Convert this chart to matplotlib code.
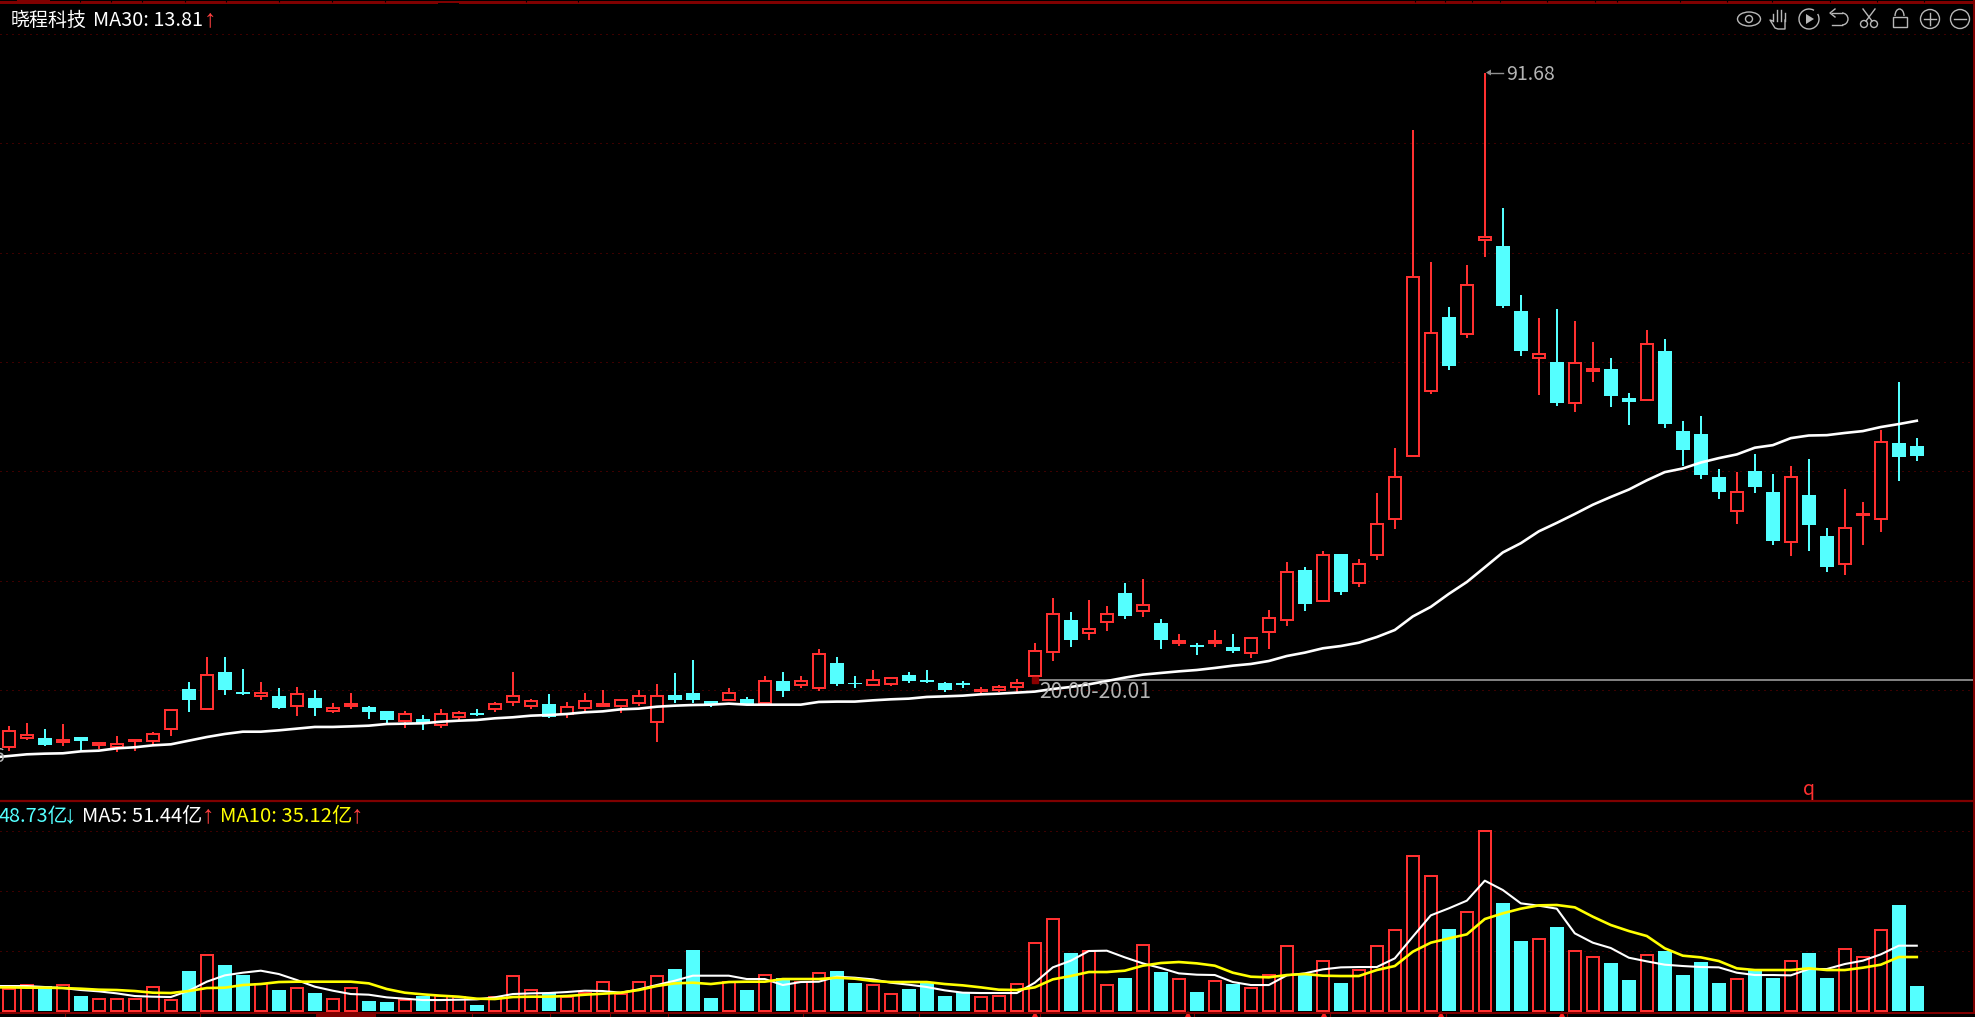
import matplotlib
matplotlib.use('Agg')
import matplotlib.pyplot as plt
from matplotlib.patches import Circle, Ellipse, Rectangle, Arc, Polygon

plt.rcParams['font.family'] = ['Noto Sans CJK SC', 'DejaVu Sans']

stock_name = '晓程科技'
ma30_label = 'MA30: 13.81'
vol_label = '48.73亿'
ma5_label = 'MA5: 51.44亿'
ma10_label = 'MA10: 35.12亿'
high_label = '91.68'
level_label = '20.00-20.01'

# R = up day, C = down day
dirs = ("RRCRCRRRRR" "CRCCRCRCRR" "CCRCRRCRRR" "CRRRRRRCCC" "RCRCRRCCRR"
        "CCCCRRRRRC" "RRCRCRCRCR" "RRCRCRRRRR" "CRRCCRCRRC" "CRCCCCRCCR" "CCRRRCC")

highs = [14.57, 14.93, 14.22, 14.81, 13.31, 12.69, 13.39, 12.92, 13.87, 16.46,
         19.76, 22.71, 22.71, 21.30, 19.76, 19.06, 19.17, 18.82, 17.29, 18.43,
         16.93, 16.34, 16.34, 15.87, 16.58, 16.34, 16.58, 17.40, 20.94, 17.76,
         18.35, 17.40, 18.47, 18.82, 17.76, 18.82, 19.53, 20.83, 22.36, 17.52,
         19.06, 18.00, 20.47, 20.95, 20.47, 23.66, 22.72, 20.47, 21.18, 20.24,
         20.95, 21.18, 19.77, 19.88, 19.18, 19.41, 20.12, 24.37, 29.68, 28.03,
         29.44, 28.73, 31.45, 31.92, 27.20, 25.43, 24.37, 25.90, 25.43, 25.08,
         28.26, 33.92, 33.30, 35.27, 34.83, 34.27, 42.04, 47.36, 84.91, 69.32,
         64.00, 68.97, 91.68, 75.70, 65.44, 62.69, 63.78, 62.34, 59.89, 57.97,
         53.87, 61.29, 60.24, 50.55, 51.21, 44.87, 44.53, 46.66, 44.31, 45.22,
         46.05, 37.93, 42.52, 40.99, 49.50, 55.13, 48.54]
body_top = [13.94, 13.47, 13.16, 12.92, 13.27, 12.53, 12.41, 12.88, 13.59, 16.42,
            18.94, 20.55, 20.94, 18.58, 18.43, 18.11, 18.39, 17.88, 16.70, 17.17,
            16.78, 16.34, 15.95, 15.40, 15.95, 16.11, 16.07, 17.13, 18.07, 17.48,
            17.17, 16.78, 17.48, 17.13, 17.68, 18.15, 18.15, 18.23, 18.47, 17.52,
            18.43, 17.76, 19.84, 19.88, 19.88, 23.03, 22.01, 19.65, 19.96, 20.20,
            20.59, 20.00, 19.65, 19.65, 18.86, 19.18, 19.65, 23.38, 27.75, 27.08,
            26.02, 27.75, 30.27, 28.81, 26.73, 24.60, 24.13, 24.60, 23.90, 24.92,
            27.28, 32.71, 32.96, 34.79, 34.83, 33.74, 38.37, 43.96, 67.58, 60.98,
            62.82, 66.57, 72.25, 71.20, 63.52, 58.41, 57.49, 57.45, 56.71, 56.71,
            53.26, 59.59, 58.80, 49.37, 49.02, 43.96, 42.21, 44.66, 42.17, 43.96,
            41.82, 36.97, 37.93, 39.64, 48.11, 47.97, 47.58]
body_bot = [12.13, 13.20, 12.33, 12.72, 12.84, 12.37, 12.10, 12.76, 12.84, 14.18,
            17.64, 16.62, 18.82, 18.39, 18.15, 16.70, 16.97, 16.70, 16.38, 16.97,
            16.22, 15.28, 15.20, 14.93, 14.65, 15.63, 15.87, 16.62, 17.44, 16.93,
            15.63, 15.95, 16.74, 16.97, 16.97, 17.33, 15.01, 17.64, 17.64, 17.17,
            17.64, 17.17, 17.29, 18.70, 19.41, 19.10, 19.53, 19.49, 19.41, 19.53,
            19.88, 19.77, 18.82, 19.41, 18.74, 18.82, 19.18, 20.51, 23.34, 24.72,
            25.55, 26.88, 27.55, 28.10, 24.72, 24.41, 23.93, 24.41, 23.42, 23.15,
            25.63, 27.04, 28.94, 29.38, 30.38, 31.47, 34.79, 39.02, 46.45, 54.13,
            57.06, 60.85, 71.90, 64.13, 58.80, 57.97, 52.69, 52.73, 56.49, 53.52,
            52.78, 53.08, 50.20, 47.14, 44.18, 42.17, 39.98, 42.78, 36.40, 36.23,
            38.28, 33.30, 33.65, 39.50, 39.02, 46.31, 46.40]
lows = [11.66, 12.92, 12.21, 12.21, 11.66, 11.82, 11.51, 11.62, 12.37, 13.39,
        16.22, 16.46, 18.23, 18.23, 17.64, 16.58, 15.75, 15.75, 16.11, 16.58,
        15.40, 14.81, 14.34, 14.10, 14.34, 15.28, 15.75, 16.22, 16.93, 16.58,
        15.52, 15.52, 16.22, 16.81, 16.11, 16.93, 12.69, 17.29, 17.29, 16.82,
        17.52, 17.05, 17.17, 18.00, 19.06, 18.70, 19.29, 19.06, 19.29, 19.29,
        19.65, 19.65, 18.59, 19.06, 18.35, 18.59, 18.59, 19.81, 22.24, 23.90,
        24.72, 25.78, 27.20, 27.44, 23.66, 24.01, 22.95, 23.90, 23.19, 22.60,
        23.66, 26.37, 28.15, 29.24, 30.03, 30.99, 34.18, 37.80, 46.31, 53.74,
        56.62, 60.33, 69.89, 63.87, 58.23, 53.61, 52.34, 51.60, 55.13, 52.21,
        50.07, 52.95, 49.72, 45.22, 43.70, 41.34, 38.46, 42.04, 35.92, 34.61,
        35.22, 32.74, 32.39, 35.92, 37.45, 43.48, 45.84]
# the moving averages carry one extra leading day that starts off screen
ma30 = [10.83, 11.03, 11.23, 11.31, 11.35, 11.58, 11.66, 11.94, 12.06, 12.29, 12.41,
        12.84, 13.27, 13.63, 13.90, 13.90, 14.06, 14.26, 14.46, 14.46, 14.53,
        14.61, 14.81, 14.85, 14.89, 15.08, 15.20, 15.28, 15.48, 15.60, 15.79,
        15.87, 15.99, 16.19, 16.30, 16.54, 16.62, 16.85, 16.97, 17.05, 17.09,
        17.21, 17.09, 17.09, 17.09, 17.09, 17.41, 17.45, 17.45, 17.60, 17.72,
        17.80, 18.00, 18.07, 18.15, 18.31, 18.39, 18.51, 18.63, 18.94, 19.18,
        19.49, 19.88, 20.28, 20.63, 20.83, 21.02, 21.18, 21.42, 21.69, 21.89,
        22.24, 22.83, 23.23, 23.74, 24.01, 24.40, 25.07, 25.90, 27.50, 28.63,
        30.16, 31.56, 33.30, 35.05, 36.14, 37.54, 38.54, 39.59, 40.68, 41.60,
        42.47, 43.56, 44.53, 44.96, 45.66, 46.18, 46.62, 47.41, 47.71, 48.54,
        48.85, 48.89, 49.15, 49.37, 49.85, 50.20, 50.59]

volume = [12.8, 15.6, 14.8, 15.6, 8.8, 7.2, 7.2, 7.2, 14.4, 6.4,
          23.8, 33.6, 27.4, 21.4, 16.2, 12.4, 13.8, 10.6, 7.0, 13.8,
          5.8, 5.2, 6.2, 8.8, 8.8, 8.4, 3.4, 8.4, 21.0, 12.6,
          10.4, 8.4, 10.4, 17.4, 10.0, 17.4, 21.0, 25.0, 36.4, 7.6,
          17.4, 12.4, 21.6, 19.4, 17.4, 22.8, 23.8, 16.6, 15.6, 10.2,
          13.0, 16.4, 8.8, 11.4, 8.4, 9.0, 16.0, 40.8, 55.2, 34.6,
          36.0, 15.6, 19.6, 39.6, 23.2, 19.2, 11.2, 18.0, 16.0, 13.8,
          21.6, 39.0, 21.4, 30.0, 16.6, 24.6, 39.0, 48.6, 93.0, 81.0,
          49.0, 59.4, 108.0, 64.6, 41.8, 43.2, 50.2, 36.0, 32.4, 28.6,
          18.4, 33.6, 35.8, 21.4, 29.2, 16.6, 19.2, 24.4, 19.6, 30.0,
          34.6, 19.6, 37.2, 32.4, 48.6, 63.4, 14.8]
vol_ma5 = [14.8, 14.8, 14.8, 14.2, 13.6, 12.4, 11.6, 10.4, 8.8, 8.4, 8.2,
           12.0, 17.4, 21.2, 22.8, 24.0, 22.0, 18.4, 14.4, 12.0, 10.0,
           9.6, 8.0, 7.2, 6.4, 6.4, 6.6, 6.8, 8.0, 10.0, 10.4,
           10.6, 11.2, 12.0, 11.8, 10.8, 12.8, 15.4, 18.0, 21.0, 21.0,
           21.0, 19.0, 19.0, 15.4, 17.2, 17.4, 20.4, 19.8, 18.8, 16.8,
           15.6, 14.2, 12.2, 10.8, 10.6, 10.6, 10.6, 16.8, 26.0, 30.0,
           35.8, 36.0, 32.0, 28.4, 25.6, 22.4, 21.6, 21.4, 17.2, 15.4,
           15.4, 21.2, 22.4, 24.8, 26.0, 26.2, 26.2, 31.4, 44.4, 57.2,
           61.4, 66.0, 78.0, 72.4, 64.4, 63.0, 61.2, 46.4, 40.8, 37.6,
           31.8, 29.6, 27.6, 26.8, 26.2, 26.0, 22.8, 21.4, 21.4, 21.2,
           25.0, 25.0, 28.0, 30.0, 33.8, 39.0, 39.0]
vol_ma10 = [14.0, 14.0, 13.8, 13.8, 13.6, 13.2, 12.6, 12.4, 11.8, 10.8, 10.6,
            11.8, 13.6, 13.8, 15.4, 16.0, 17.2, 17.4, 17.4, 17.4, 17.4,
            16.4, 13.0, 10.8, 9.8, 9.0, 8.4, 7.2, 7.0, 8.2, 8.4,
            8.4, 8.8, 9.6, 10.2, 10.8, 12.4, 14.8, 16.4, 16.8, 16.0,
            17.2, 17.4, 17.4, 19.0, 19.0, 19.0, 19.8, 19.2, 17.8, 17.2,
            17.2, 17.2, 16.0, 15.2, 14.0, 12.6, 12.4, 14.0, 18.8, 20.8,
            23.2, 23.2, 24.0, 27.0, 28.6, 29.2, 28.4, 27.0, 22.8, 20.4,
            20.0, 21.4, 22.0, 21.0, 20.8, 20.8, 24.4, 26.8, 35.4, 40.8,
            43.4, 45.8, 55.0, 58.4, 61.2, 63.2, 63.4, 62.0, 56.4, 51.4,
            47.8, 44.8, 37.4, 33.0, 32.0, 29.8, 25.4, 24.4, 24.4, 24.4,
            25.4, 24.4, 24.4, 25.8, 27.6, 32.2, 32.2]

price_grid = [96.23, 83.37, 70.44, 57.58, 44.66, 31.74, 18.82]
vol_grid = [107.8, 71.8, 35.8]
level_price = 20.0

RED = '#ff3030'
CYAN = '#54ffff'
DARK = '#7f0000'
GRID = '#7a0000'
GRAY = '#b4b4b4'
W, H = 1975, 1017

fig = plt.figure(figsize=(W / 100, H / 100), dpi=100, facecolor='black')


def pane(left, top, right, bottom):
    ax = fig.add_axes([left / W, 1 - bottom / H, (right - left) / W, (bottom - top) / H])
    ax.set_facecolor('black')
    ax.axis('off')
    return ax


xlim = (-8.8 / 18, (1973 - 8.8) / 18)
ax_p = pane(0, 0, 1973, 800)
ax_p.set_xlim(xlim)
ax_p.set_ylim(5.84, 100.24)
ax_v = pane(0, 800, 1973, 1012)
ax_v.set_xlim(xlim)
ax_v.set_ylim(-0.78, 126.4)

for ax, levels in ((ax_p, price_grid), (ax_v, vol_grid)):
    ax.hlines(levels, xlim[0], xlim[1] - 0.1, colors=GRID, lw=0.72, linestyles=[(0, (1, 5))], zorder=1)

# candles
lw = 1.44
for i, d in enumerate(dirs):
    col = RED if d == 'R' else CYAN
    ax_p.vlines(i, body_top[i], highs[i], colors=col, lw=lw, zorder=3)
    ax_p.vlines(i, lows[i], body_bot[i], colors=col, lw=lw, zorder=3)
    if d == 'R':
        ax_p.bar(i, body_top[i] - body_bot[i], 0.67, body_bot[i], facecolor='black', edgecolor=col,
                 lw=lw, zorder=3)
        ax_v.bar(i, volume[i], 0.67, facecolor='black', edgecolor=col, lw=lw, zorder=2)
    else:
        ax_p.bar(i, body_top[i] - body_bot[i], 0.76, body_bot[i], color=col, lw=0, zorder=3)
        ax_v.bar(i, volume[i], 0.76, color=col, lw=0, zorder=2)

days = range(-1, len(dirs))
ax_p.set_xlim(xlim)
ax_v.set_xlim(xlim)
ax_p.plot(days, ma30, color='white', lw=1.9, zorder=4)
ax_p.hlines(level_price, 57.1, xlim[1], colors='#808080', lw=1.44, zorder=2)
ax_p.plot([57], [level_price], 's', color='#8a0000', ms=4, zorder=5)
ax_v.plot(days, vol_ma5, color='white', lw=1.5, zorder=4)
ax_v.plot(days, vol_ma10, color='#ffff00', lw=1.9, zorder=5)
ax_p.set_xlim(xlim)
ax_v.set_xlim(xlim)

# overlay in screen pixels: frame, labels and toolbar
ov = fig.add_axes([0, 0, 1, 1], zorder=10)
ov.set_xlim(0, W)
ov.set_ylim(H, 0)
ov.axis('off')
ov.patch.set_alpha(0)

ov.hlines(800.5, 0, W, colors=DARK, lw=1.6)
ov.vlines(1974, 0, 1013, colors=DARK, lw=1.44)
ov.add_patch(Rectangle((0, 1), W, 3, color=DARK, lw=0))
ov.add_patch(Rectangle((17, 0), 33, 4, color=DARK, lw=0))
ov.add_patch(Rectangle((438, 3), 21, 2, color='black', lw=0))
top_ticks = [80, 111, 142, 185, 226, 279, 332, 385, 526, 578, 1415, 1445, 1472, 1500, 1547, 1595,
             1617, 1680, 1727, 1772, 1830, 1877, 1924]
ov.vlines(top_ticks, 0, 2, colors='black', lw=0.8)
ov.hlines(1012.5, 0, W, colors=DARK, lw=1.44)
bottom_ticks = [65, 200, 472, 550, 610, 668, 803, 919, 1040, 1194, 1330, 1446, 1567]
ov.vlines(bottom_ticks, 1012, 1017, colors=DARK, lw=0.8)
ov.add_patch(Rectangle((316, 1012), 60, 5, color=DARK, lw=0))
for mx in [1035, 1188, 1324, 1441, 1562]:
    ov.add_patch(Polygon([(mx - 3, 1017), (mx + 3, 1017), (mx, 1011)], color='#ff2020', lw=0))

arrow_font = 'Liberation Sans'
ov.text(11, 20, stock_name, color='white', fontsize=13.7, va='center')
ov.text(93, 20, ma30_label, color='white', fontsize=14.3, va='center')
ov.text(210, 19, '↑', color='#ff4040', fontsize=18, va='center', ha='center', family=arrow_font)
ov.text(-1, 816.5, vol_label, color=CYAN, fontsize=14.3, va='center')
ov.text(70, 815, '↓', color=CYAN, fontsize=18, va='center', ha='center', family=arrow_font)
ov.text(82, 816.5, ma5_label, color='white', fontsize=14.5, va='center')
ov.text(208, 815, '↑', color='#ff4040', fontsize=18, va='center', ha='center', family=arrow_font)
ov.text(220, 816.5, ma10_label, color='#ffff00', fontsize=14.6, va='center')
ov.text(357, 815, '↑', color='#ff4040', fontsize=18, va='center', ha='center', family=arrow_font)
ov.text(-6, 757, '6', color=GRAY, fontsize=14, va='center')
ov.text(1809, 789, 'q', color=RED, fontsize=14, va='center', ha='center')
ov.text(1506, 74, high_label, color=GRAY, fontsize=14, va='center')
ov.text(1039, 692, level_label, color=GRAY, fontsize=15.2, va='center')

# 91.68 pointer
ov.plot([1488, 1503], [72.5, 72.5], color='#909090', lw=1)
ov.add_patch(Polygon([(1486, 72.5), (1491, 69.5), (1491, 75.5)], color='#909090', lw=0))

# toolbar icons
ic = '#b8b8b8'
kw = dict(fill=False, edgecolor=ic, lw=1.0)
ov.add_patch(Ellipse((1749, 19), 23, 14, **kw))
ov.add_patch(Circle((1749, 19), 3.5, **kw))
for dx, top in ((-6, 14), (-2, 10), (2, 10), (6, 13)):
    ov.plot([1779 + dx, 1779 + dx], [top, 21], color=ic, lw=1.0)
ov.plot([1773, 1770, 1775, 1778, 1785, 1785], [21, 20, 28, 29, 29, 20], color=ic, lw=1.0)
ov.add_patch(Arc((1809, 19), 20, 20, theta1=-30, theta2=300, edgecolor=ic, lw=1.0))
ov.add_patch(Polygon([(1806, 14), (1806, 24), (1814, 19)], color=ic, lw=0))
ov.plot([1832, 1842], [13, 13], color=ic, lw=1.0)
ov.add_patch(Arc((1842, 19), 12, 12, theta1=-90, theta2=90, edgecolor=ic, lw=1.0))
ov.plot([1842, 1832], [25, 25], color=ic, lw=1.0)
ov.plot([1835, 1830, 1835], [9, 13, 17], color=ic, lw=1.0)
ov.add_patch(Circle((1864, 24), 3.5, **kw))
ov.add_patch(Circle((1874, 24), 3.5, **kw))
ov.plot([1866, 1875], [21, 9], color=ic, lw=1.0)
ov.plot([1872, 1863], [21, 9], color=ic, lw=1.0)
ov.add_patch(Rectangle((1892.5, 17), 14, 10, **kw))
ov.add_patch(Arc((1899.5, 16), 9, 14, theta1=180, theta2=360, edgecolor=ic, lw=1.0))
ov.add_patch(Circle((1930, 19), 9.5, **kw))
ov.plot([1924, 1936], [19, 19], color=ic, lw=1.0)
ov.plot([1930, 1930], [13, 25], color=ic, lw=1.0)
ov.add_patch(Circle((1960, 19), 9.5, **kw))
ov.plot([1954, 1966], [19, 19], color=ic, lw=1.0)

fig.savefig('out.png', dpi=100, facecolor='black')
